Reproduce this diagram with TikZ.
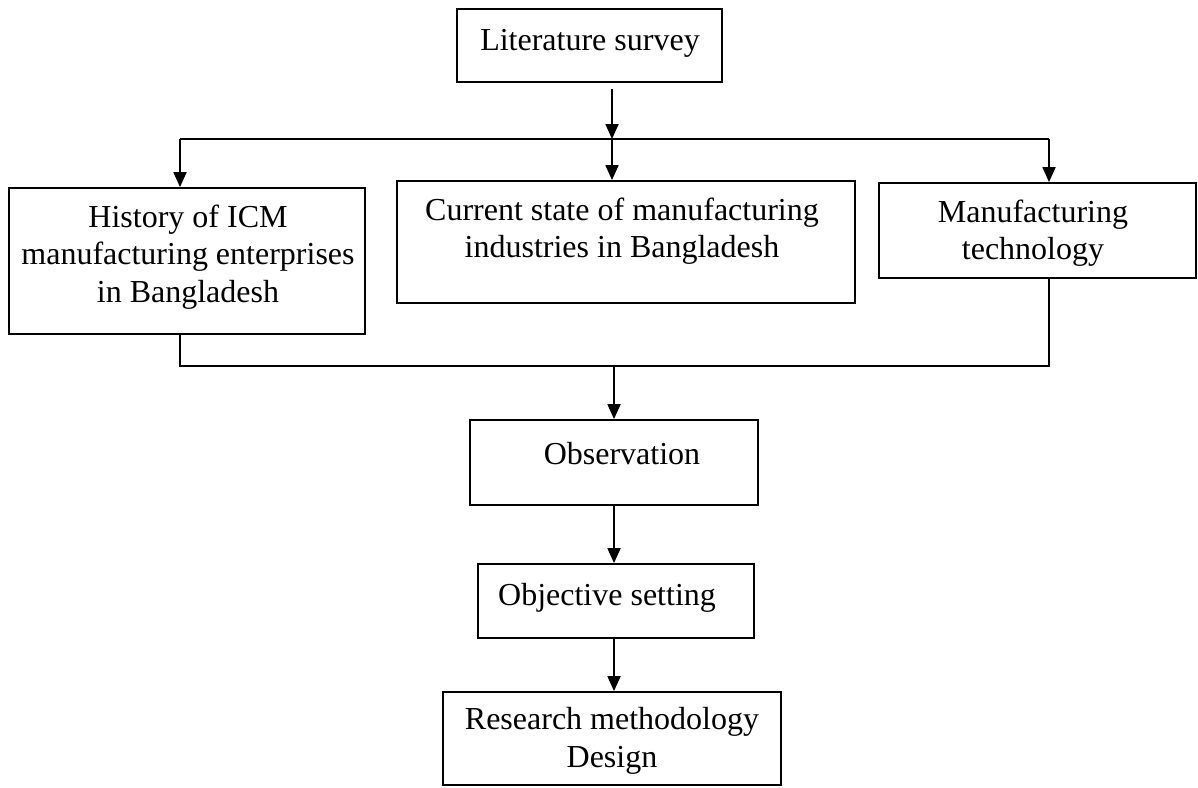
\documentclass[tikz,border=0pt]{standalone}
\usepackage{fontspec}
\setmainfont{Liberation Serif}
\usetikzlibrary{arrows.meta}
\begin{document}
\begin{tikzpicture}[x=1pt,y=-1pt,
  box/.style={draw,line width=1.8pt,rectangle,inner sep=0pt},
  lbl/.style={align=center,inner sep=0pt,font=\fontsize{32}{37.5}\selectfont},
  conn/.style={line width=1.8pt},
  arr/.style={line width=1.8pt,-{Triangle[length=15pt,width=13pt]}}]
\useasboundingbox (0,0) rectangle (1198,787);
% boxes
\node[box,minimum width=265pt,minimum height=73pt] (lit) at (589.5,45.5) {};
\node[box,minimum width=356pt,minimum height=146pt] (hist) at (187,261) {};
\node[box,minimum width=458pt,minimum height=122pt] (cur) at (626,242) {};
\node[box,minimum width=317pt,minimum height=95pt] (manuf) at (1037.5,230.5) {};
\node[box,minimum width=288pt,minimum height=85pt] (obs) at (614,462.5) {};
\node[box,minimum width=276pt,minimum height=74pt] (obj) at (616,601) {};
\node[box,minimum width=338pt,minimum height=93pt] (res) at (612,738.5) {};
% texts
\node[lbl] (litT) at (590,43) {Literature survey};
\node[lbl] (histT) at (188,257) {History of ICM\\manufacturing enterprises\\in Bangladesh};
\node[lbl] (curT) at (622,231) {Current state of manufacturing\\industries in Bangladesh};
\node[lbl] (manufT) at (1033,233) {Manufacturing\\technology};
\node[lbl] (obsT) at (622,454) {Observation};
\node[lbl] (objT) at (607,598) {Objective setting};
\node[lbl] (resT) at (612,741) {Research methodology\\Design};
% junction coordinates
\coordinate (jt) at (612,139);
\coordinate (jl) at (180,139);
\coordinate (jr) at (1049,139);
\coordinate (bl) at (180,366);
\coordinate (br) at (1049,366);
\coordinate (bm) at (614,366);
% connectors
\draw[arr,shorten <=6pt] (lit.south -| jt) -- (jt);
\draw[conn] (jl) -- (jr);
\draw[arr] (jl) -- (jl |- hist.north);
\draw[arr] (jt) -- (jt |- cur.north);
\draw[arr] (jr) -- (jr |- manuf.north);
\draw[conn] (bl |- hist.south) -- (bl) -- (br) -- (br |- manuf.south);
\draw[arr] (bm) -- (bm |- obs.north);
\draw[arr] (bm |- obs.south) -- (bm |- obj.north);
\draw[arr] (bm |- obj.south) -- (bm |- res.north);
\end{tikzpicture}
\end{document}
